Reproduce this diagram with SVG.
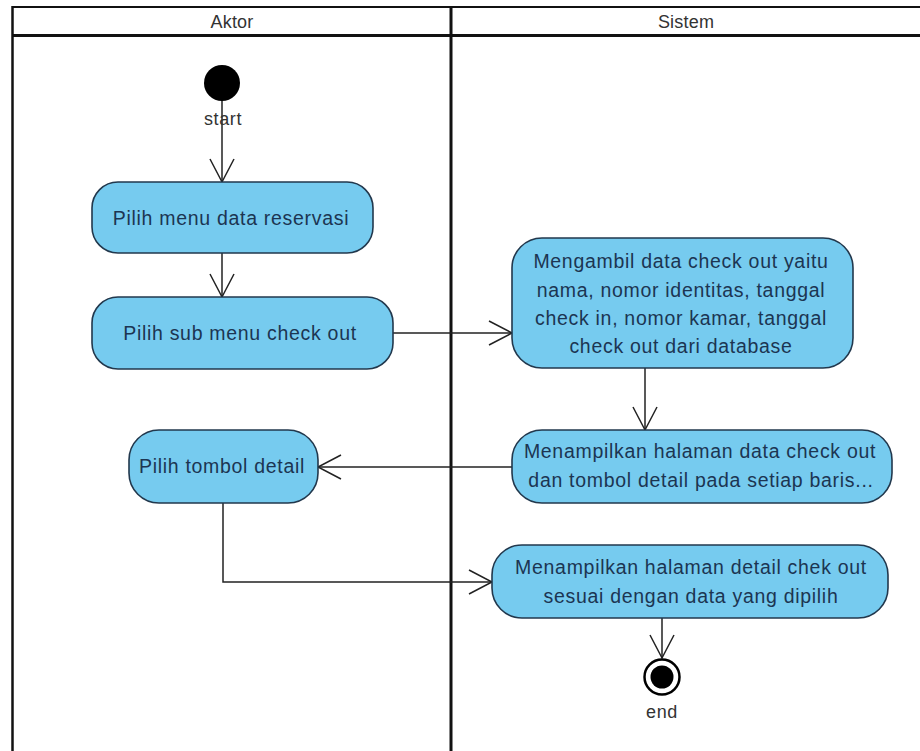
<svg xmlns="http://www.w3.org/2000/svg" width="920" height="751" viewBox="0 0 920 751">
  <defs>
    <marker id="open-arrow" markerUnits="userSpaceOnUse" markerWidth="30" markerHeight="30" viewBox="-25 -15 30 30" refX="0" refY="0" orient="auto">
      <path d="M-23,-12 L0,0 L-23,12" fill="none" stroke="#222" stroke-width="1.5"/>
    </marker>
    <style>
      .lane { stroke: #111; fill: none; }
      .hdr { font-family: "Liberation Sans", Arial, sans-serif; font-size: 18px; fill: #333; text-anchor: middle; letter-spacing: 0.2px; }
      .act rect { fill: #76CBEF; stroke: #22384d; stroke-width: 1.6; }
      .act text { font-family: "Liberation Sans", Arial, sans-serif; font-size: 19.5px; fill: #1c3552; text-anchor: middle; letter-spacing: 0.7px; }
      .lbl { font-family: "Liberation Sans", Arial, sans-serif; font-size: 18px; fill: #333; text-anchor: middle; letter-spacing: 0.6px; }
      .flow { stroke: #222; stroke-width: 1.5; fill: none; marker-end: url(#open-arrow); }
    </style>
  </defs>

  <rect width="920" height="751" fill="#fff"/>

  <!-- swimlane frame -->
  <g id="swimlanes">
    <line class="lane" x1="12" y1="7" x2="920" y2="7" stroke-width="2"/>
    <line class="lane" x1="12" y1="35.5" x2="920" y2="35.5" stroke-width="3"/>
    <line class="lane" x1="12.5" y1="6" x2="12.5" y2="751" stroke-width="2.5"/>
    <line class="lane" x1="451" y1="6" x2="451" y2="751" stroke-width="3"/>
    <text class="hdr" x="232" y="28">Aktor</text>
    <text class="hdr" x="686" y="28">Sistem</text>
  </g>

  <!-- connectors -->
  <g id="connectors">
    <path class="flow" d="M222,100 V182"/>
    <path class="flow" d="M222,253 V297"/>
    <path class="flow" d="M393,333 H512"/>
    <path class="flow" d="M645,368 V430"/>
    <path class="flow" d="M512,467 H318"/>
    <path class="flow" d="M223,503 V582 H492"/>
    <path class="flow" d="M662,618 V658"/>
  </g>

  <!-- initial node -->
  <g id="start">
    <circle cx="222" cy="83" r="18" fill="#000"/>
    <text class="lbl" x="223" y="125">start</text>
  </g>

  <g id="pilih-menu" class="act">
    <rect x="92" y="182" width="281" height="71" rx="26"/>
    <text x="231" y="225">Pilih menu data reservasi</text>
  </g>

  <g id="pilih-sub-menu" class="act">
    <rect x="92" y="297" width="301" height="72" rx="26"/>
    <text x="240" y="340">Pilih sub menu check out</text>
  </g>

  <g id="ambil-data" class="act">
    <rect x="512" y="238" width="341" height="130" rx="30"/>
    <text x="681" y="268">Mengambil data check out yaitu</text>
    <text x="681" y="297">nama, nomor identitas, tanggal</text>
    <text x="681" y="325">check in, nomor kamar, tanggal</text>
    <text x="681" y="353">check out dari database</text>
  </g>

  <g id="tampil-data" class="act">
    <rect x="512" y="430" width="380" height="73" rx="30"/>
    <text x="700" y="458">Menampilkan halaman data check out</text>
    <text x="701" y="487">dan tombol detail pada setiap baris...</text>
  </g>

  <g id="pilih-tombol" class="act">
    <rect x="129" y="430" width="189" height="73" rx="30"/>
    <text x="222" y="473">Pilih tombol detail</text>
  </g>

  <g id="tampil-detail" class="act">
    <rect x="492" y="545" width="396" height="73" rx="30"/>
    <text x="691" y="574">Menampilkan halaman detail chek out</text>
    <text x="691" y="603">sesuai dengan data yang dipilih</text>
  </g>

  <!-- final node -->
  <g id="end">
    <circle cx="662" cy="677" r="17.5" fill="#fff" stroke="#000" stroke-width="2.5"/>
    <circle cx="662" cy="677" r="11.5" fill="#000"/>
    <text class="lbl" x="662" y="718">end</text>
  </g>
</svg>
